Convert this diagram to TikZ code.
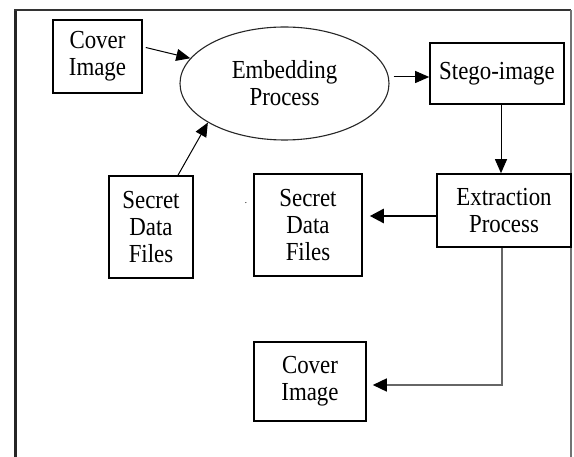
\documentclass[tikz,border=0pt]{standalone}
\usepackage{fontspec}
\setmainfont{Liberation Serif}[FakeStretch=0.88]
\usetikzlibrary{arrows.meta,shapes.geometric}
\begin{document}
\begin{tikzpicture}[x=1pt,y=-1pt,
  every node/.style={font=\fontsize{26}{27}\selectfont, align=center, inner sep=0pt},
  box/.style={draw=black, line width=1.6pt},
  arr/.style={draw=black, line width=1pt, -{Triangle[length=14pt,width=12pt]}},
  thickarr/.style={draw=black, line width=2.6pt, -{Triangle[length=14pt,width=14pt]}},
  greyline/.style={draw=black!60, line width=1.6pt, -{Triangle[length=14pt,width=13pt,color=black]}}]
\useasboundingbox (0,0) rectangle (574,457);
% frame
\draw[line width=3pt, black!85] (15,457) -- (15,9);
\draw[line width=2pt, black!80] (14,10) -- (571,10);
\draw[line width=1.3pt, black!55] (571,10) -- (571,457);
% nodes
\node[box, minimum width=89pt, minimum height=73pt] (cov1) at (97.5,56.5) {Cover\\Image};
\node[draw=black!85, line width=1.1pt, ellipse, minimum width=209pt, minimum height=113pt] (emb) at (284.5,83.5) {Embedding\\Process};
\node[box, minimum width=134pt, minimum height=61pt] (stego) at (497,73.5) {Stego-image};
\node[box, minimum width=84pt, minimum height=102pt] (sec1) at (151,227) {Secret\\Data\\Files};
\node[box, minimum width=108pt, minimum height=102pt] (sec2) at (308,225) {Secret\\Data\\Files};
\node[box, minimum width=134pt, minimum height=73pt] (extr) at (504,210.5) {Extraction\\Process};
\node[box, minimum width=112pt, minimum height=79pt] (cov2) at (310,381.5) {Cover\\Image};
\node[font=\fontsize{10}{10}\selectfont] (dot) at (246,203) {.};
% connectors
\draw[arr] ([xshift=3pt,yshift=9pt]cov1.east) -- (emb.165);
\draw[arr] ([xshift=27pt]sec1.north) -- (emb.207);
\coordinate (stin) at ([yshift=-3.5pt]stego.west);
\draw[arr] ([xshift=4pt]emb.east |- stin) -- (stin);
\draw[arr] ([xshift=4pt]stego.south) -- ([xshift=-3pt]extr.north);
\coordinate (exl) at ([yshift=-5.5pt]extr.west);
\draw[thickarr] (exl) -- ([xshift=7pt]sec2.east |- exl);
\draw[greyline] ([xshift=-2pt]extr.south) |- ([xshift=6pt,yshift=-3.5pt]cov2.east);
\end{tikzpicture}
\end{document}
